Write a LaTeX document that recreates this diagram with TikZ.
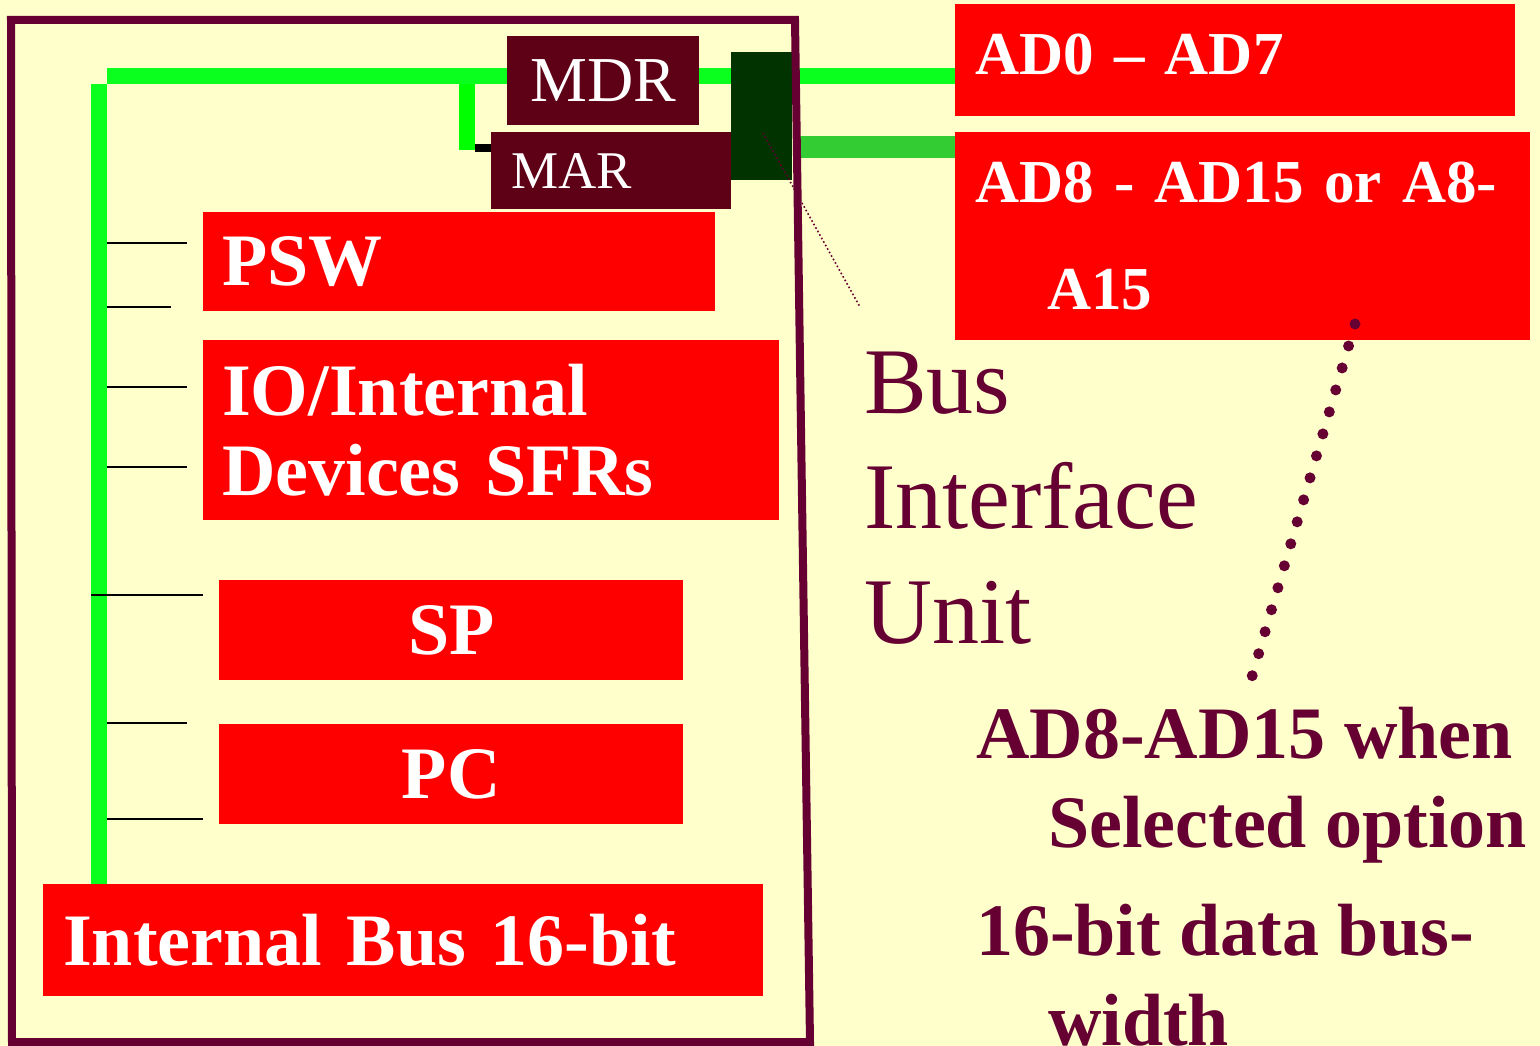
\documentclass[tikz,border=0pt]{standalone}
\usepackage{fontspec}
\setmainfont{Liberation Serif}
\usepackage{tikz}
\definecolor{bgyel}{RGB}{255,255,204}
\definecolor{plum}{RGB}{102,0,51}
\definecolor{busgreen}{RGB}{10,255,30}
\definecolor{tapgreen}{RGB}{0,255,0}
\definecolor{addrgreen}{RGB}{51,204,51}
\definecolor{regdark}{RGB}{94,0,22}
\definecolor{latchgreen}{RGB}{0,51,0}

\begin{document}
\begin{tikzpicture}[x=1pt,y=-1pt,
  redbox/.style={fill=red,text=white,inner sep=0pt,anchor=north west,font=\bfseries\fontsize{74}{80}\selectfont},
  regbox/.style={fill=regdark,text=white,inner sep=0pt,anchor=north west},
  mainbus/.style={busgreen,line width=16pt},
  tick/.style={black,line width=2pt},
  plumtext/.style={text=plum,inner sep=0pt,anchor=base west,align=left}]
  \fill[bgyel] (0,0) rectangle (1540,1046);
  \useasboundingbox (0,0) rectangle (1540,1046);

  \node[redbox,minimum width=560pt,minimum height=112pt,text width=520pt,align=left,text depth=11pt,
        font=\bfseries\fontsize{61}{70}\selectfont] (adlow) at (955,4) {AD0 -- AD7};
  \node[redbox,minimum width=575pt,minimum height=208pt,text width=535pt,align=left,
        font=\bfseries\fontsize{61}{107}\selectfont] (adhigh) at (955,132)
        {\mbox{AD8 - AD15 or A8-}\\\hspace*{72pt}A15};
  \node[redbox,minimum width=720pt,minimum height=112pt,text width=680pt,align=left] (ibus) at (43,884)
        {Internal Bus 16-bit};

  % internal bus and taps
  \coordinate (corner) at (107,76);
  \coordinate (busTop) at (99,84);
  \coordinate (tap) at (467,84);
  \coordinate (tapEnd) at (475,148);
  \coordinate (abus) at (799,147);
  \draw[mainbus] (corner) -- (corner -| adlow.west);
  \draw[mainbus] (busTop) -- (busTop |- ibus.north);
  \draw[tapgreen,line width=16pt] (tap) -- ++(0,66);
  \draw[addrgreen,line width=22pt] (abus) -- (abus -| adhigh.west);
  \foreach \y/\xa/\xb in {243/107/187,307/107/171,387/107/187,467/107/187,
                          595/91/203,723/107/187,819/107/203}
    \draw[tick] (\xa,\y) -- (\xb,\y);

  \node[regbox,minimum width=192pt,minimum height=89pt,align=center,
        font=\fontsize{64}{70}\selectfont] (mdr) at (507,36) {MDR};
  \node[regbox,minimum width=240pt,minimum height=77pt,text width=200pt,align=left,
        font=\fontsize{53}{60}\selectfont] (mar) at (491,132) {MAR};
  \node[fill=latchgreen,inner sep=0pt,anchor=north west,minimum width=61pt,minimum height=128pt] (latch) at (731,52) {};
  \draw[black,line width=8pt] (tapEnd) -- (tapEnd -| mar.west);

  \node[redbox,minimum width=512pt,minimum height=99pt,text width=474pt,align=left] (psw) at (203,212) {PSW};
  \node[redbox,minimum width=576pt,minimum height=180pt,text width=538pt,align=left] (sfr) at (203,340)
        {IO/Internal\\Devices SFRs};
  \node[redbox,minimum width=464pt,minimum height=100pt,text width=464pt,align=center] (sp) at (219,580) {SP};
  \node[redbox,minimum width=464pt,minimum height=100pt,text width=464pt,align=center] (pc) at (219,724) {PC};

  % outer frame
  \draw[plum,line width=8pt] (11,20) -- (795,20) -- (810,1042) -- (12,1042) -- cycle;

  \node[plumtext,font=\fontsize{94}{115}\selectfont] (biu) at (864,643) {Bus\\Interface\\Unit};
  \node[plumtext,font=\bfseries\fontsize{74}{89}\selectfont] (note1) at (976,847)
        {AD8-AD15 when\\\hspace*{72pt}Selected option};
  \node[plumtext,font=\bfseries\fontsize{74}{90}\selectfont] (note2) at (976,1045)
        {16-bit data bus-\\\hspace*{72pt}width};

  \coordinate (tipA) at (763,133);
  \coordinate (tipB) at (860,307);
  \coordinate (dotA) at (1355,324);
  \coordinate (dotB) at (1246,697);
  \draw[plum,line width=1.6pt,dash pattern=on 1.6pt off 2.4pt] (tipA) -- (tipB);
  \draw[plum,line width=11pt,line cap=round,dash pattern=on 0pt off 22.9pt] (dotA) -- (dotB);
\end{tikzpicture}
\end{document}
